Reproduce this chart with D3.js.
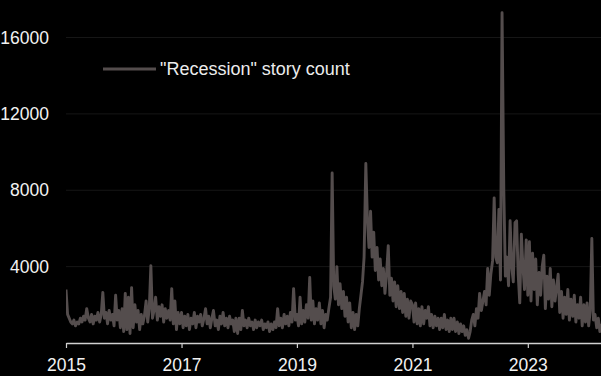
<!DOCTYPE html>
<html>
<head>
<meta charset="utf-8">
<script src="https://cdn.jsdelivr.net/npm/d3@7"></script>
<style>
	body { margin: 0; background: #000; }
	svg { display: block; }
</style>
</head>
<body>
<script>

// story counts, 36 readings per year (about every 10 days)
const counts2015 = [2800, 1500, 1300, 1100, 1000, 1200, 900, 1100, 1000, 1300, 1100, 1400, 1200, 1800, 1300, 1100, 1500, 1000,
	1400, 1200, 1600, 1100, 1500, 2650, 1300, 1600, 1000, 1700, 1200, 1500, 900, 2500, 1200, 1700, 800, 1800];
const counts2016 = [600, 2600, 700, 2400, 500, 2900, 800, 2000, 1100, 1700, 700, 1500, 1000, 1400, 2200, 1100, 1800, 4050,
	1300, 1700, 2400, 1200, 1900, 1400, 2000, 1100, 1800, 1300, 1700, 1200, 2850, 1000, 2200, 700, 1600, 1000];
const counts2017 = [1600, 800, 1400, 900, 1500, 700, 1300, 1000, 1600, 800, 1400, 1100, 1500, 900, 1300, 1800, 1000, 1400,
	800, 1300, 1700, 900, 1200, 700, 1400, 1000, 1600, 900, 1300, 800, 1400, 1000, 1200, 600, 1300, 500];
const counts2018 = [1300, 700, 1700, 900, 1200, 800, 1300, 900, 1100, 700, 1200, 800, 1100, 900, 1200, 700, 1000, 800,
	1100, 600, 1000, 700, 1100, 800, 1800, 900, 1300, 800, 1500, 1000, 1400, 900, 1600, 1100, 2850, 1200];
const counts2019 = [1500, 900, 2400, 1000, 1700, 1100, 2000, 1300, 3430, 1200, 2200, 1000, 1800, 1200, 2100, 1000, 1700, 800,
	1500, 1200, 1800, 2400, 8900, 3000, 2300, 4000, 2000, 3100, 1800, 2700, 1400, 2400, 1100, 2100, 800, 1600];
const counts2020 = [700, 1500, 900, 1800, 2500, 3200, 4500, 9400, 6500, 5000, 6900, 4500, 5800, 3800, 5000, 3300, 4400, 3000,
	3900, 2600, 3600, 5100, 2500, 3400, 2200, 3200, 1900, 3000, 1800, 2700, 1600, 2600, 1400, 2300, 1300, 2200];
const counts2021 = [2000, 1100, 2100, 1000, 1800, 900, 1900, 1000, 1700, 1300, 1900, 900, 1500, 800, 1400, 900, 1300, 700,
	1300, 800, 1500, 700, 1200, 600, 1300, 700, 1300, 600, 1100, 500, 1000, 600, 900, 400, 700, 250];
const counts2022 = [600, 1200, 1500, 900, 1800, 1300, 2600, 1700, 2200, 2700, 2000, 3900, 2500, 3600, 4300, 7600, 4500, 4200,
	7000, 3300, 17300, 8000, 3500, 4500, 3000, 6400, 4000, 3200, 6300, 6400, 3600, 2100, 5700, 4000, 2800, 5400];
const counts2023 = [2500, 5300, 2200, 4700, 2800, 4400, 2000, 3700, 2500, 4000, 4600, 1800, 3500, 2300, 3900, 1900, 3300, 2200,
	2900, 3600, 1600, 2700, 1300, 2400, 1500, 2800, 1200, 2300, 1400, 2500, 1100, 2000, 1300, 2400, 900, 2000];
const counts2024 = [1100, 2100, 900, 1700, 5470, 1200, 1500, 800, 1300, 600, 1000];

const years = [2015, 2016, 2017, 2018, 2019, 2020, 2021, 2022, 2023, 2024];
const yearCounts = [counts2015, counts2016, counts2017, counts2018, counts2019, counts2020, counts2021, counts2022, counts2023, counts2024];

const yTicks = [4000, 8000, 12000, 16000];
const xTicks = [2015, 2017, 2019, 2021, 2023];
const legendLabel = '"Recession" story count';

const dataset = [];
years.forEach((yr, k) => {
	yearCounts[k].forEach((v, j) => {
		dataset.push({ date: new Date(yr, 0, 1 + j * 365.25 / 36), value: v });
	});
});

chart(dataset);

function chart(dataset) {

	const width = 601;
	const height = 376;
	const left = 66;
	const bottom = 343;

	const xScale = d3.scaleTime()
		.domain([new Date(2015, 0, 1), new Date(2024, 3, 8)])
		.range([left, width]);
	const yScale = d3.scaleLinear()
		.domain([0, 16000])
		.range([bottom, 37.5]);

	const svg = d3.select('body')
		.append('svg')
		.attr('width', width)
		.attr('height', height)
		.style('font-family', 'Liberation Sans, Arial, sans-serif');

	svg.append('rect')
		.attr('width', width)
		.attr('height', height)
		.attr('fill', '#000');

	// faint gridlines
	svg.append('g')
		.selectAll('line')
		.data(yTicks)
		.enter()
		.append('line')
		.attr('x1', left)
		.attr('x2', width)
		.attr('y1', d => yScale(d))
		.attr('y2', d => yScale(d))
		.attr('stroke', '#161616')
		.attr('stroke-width', 1);

	const yAxis = d3.axisLeft(yScale)
		.tickValues(yTicks)
		.tickSize(0)
		.tickPadding(17)
		.tickFormat(d3.format('d'));

	svg.append('g')
		.attr('id', 'y-axis')
		.attr('transform', 'translate(' + left + ',0)')
		.call(yAxis)
		.call(g => g.select('.domain').remove())
		.call(g => g.selectAll('text')
			.attr('fill', '#f2f2f2')
			.style('font-size', '17.5px'));

	svg.append('clipPath')
		.attr('id', 'plot')
		.append('rect')
		.attr('x', left)
		.attr('y', 0)
		.attr('width', width - left)
		.attr('height', bottom);

	const line = d3.line()
		.x(d => xScale(d.date))
		.y(d => yScale(d.value));

	svg.append('path')
		.datum(dataset)
		.attr('clip-path', 'url(#plot)')
		.attr('fill', 'none')
		.attr('stroke', '#544d4d')
		.attr('stroke-width', 2.9)
		.attr('stroke-linejoin', 'round')
		.attr('d', line);

	const xAxis = d3.axisBottom(xScale)
		.tickValues(xTicks.map(y => new Date(y, 0, 1)))
		.tickSize(5)
		.tickSizeOuter(0)
		.tickPadding(11)
		.tickFormat(d3.timeFormat('%Y'));

	svg.append('g')
		.attr('id', 'x-axis')
		.attr('transform', 'translate(0,' + bottom + ')')
		.call(xAxis)
		.call(g => g.select('.domain').attr('stroke', '#d0d0d0').attr('stroke-width', 1.5))
		.call(g => g.selectAll('.tick line').attr('stroke', '#d0d0d0').attr('stroke-width', 1.2))
		.call(g => g.selectAll('text')
			.attr('fill', '#f2f2f2')
			.style('font-size', '17.5px'));

	// legend
	const legend = svg.append('g')
		.attr('transform', 'translate(103,69)');

	legend.append('line')
		.attr('x1', 0)
		.attr('x2', 53)
		.attr('stroke', '#544d4d')
		.attr('stroke-width', 3);

	legend.append('text')
		.attr('x', 57)
		.attr('dy', '0.35em')
		.attr('fill', '#ececec')
		.style('font-size', '18px')
		.text(legendLabel);
}

</script>
</body>
</html>
